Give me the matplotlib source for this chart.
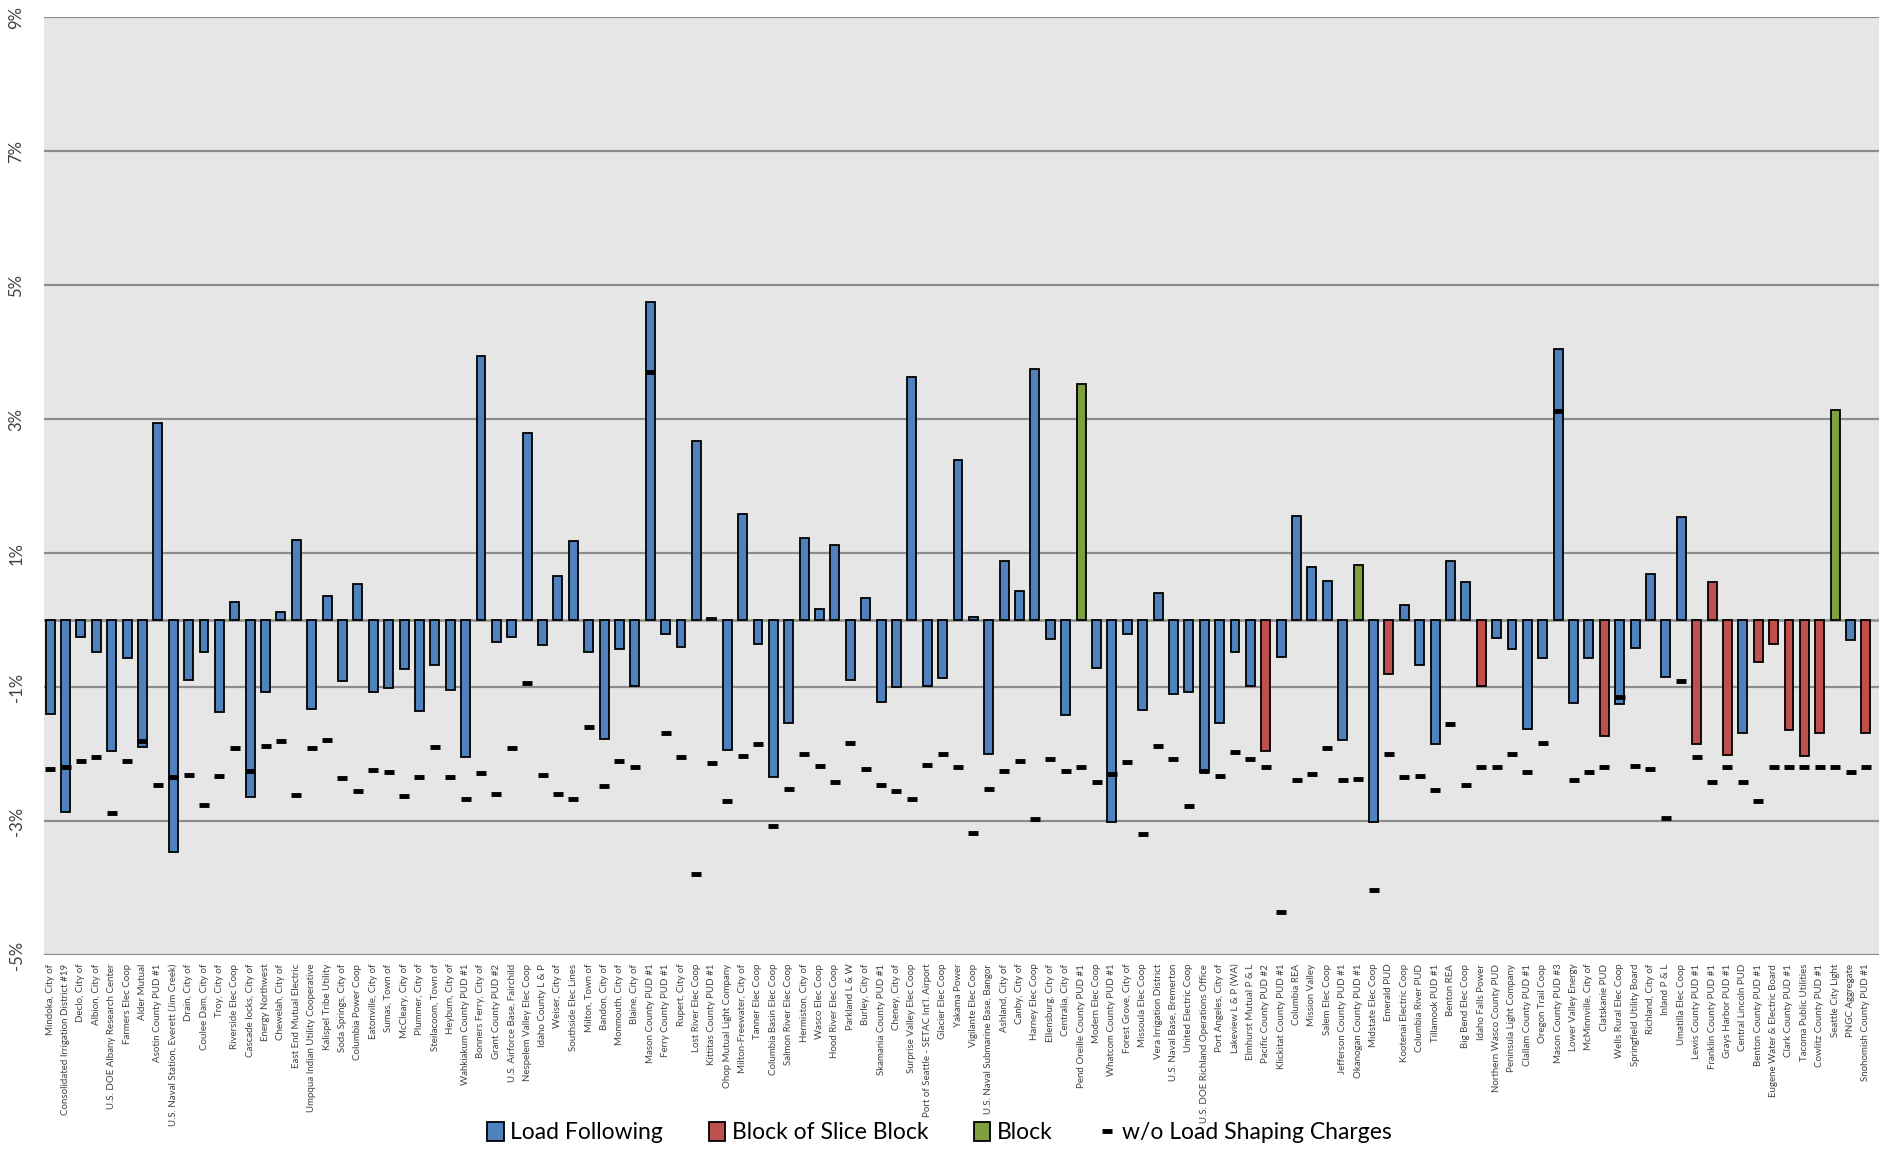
import numpy as np
import matplotlib
matplotlib.use("Agg")
import matplotlib.pyplot as plt
from matplotlib.patches import Patch
from matplotlib.lines import Line2D
from matplotlib.ticker import FuncFormatter

plt.rcParams['font.family'] = ['Lato', 'DejaVu Sans']

utilities = [
    "Mindoka, City of", "Consolidated Irrigation District #19", "Declo, City of", "Albion, City of",
    "U.S. DOE Albany Research Center", "Farmers Elec Coop", "Alder Mutual", "Asotin County PUD #1",
    "U.S. Naval Station, Everett (Jim Creek)", "Drain, City of", "Coulee Dam, City of", "Troy, City of",
    "Riverside Elec Coop", "Cascade locks, City of", "Energy Northwest", "Chewelah, City of",
    "East End Mutual Electric", "Umpqua Indian Utility Cooperative", "Kalispel Tribe Utility",
    "Soda Springs, City of", "Columbia Power Coop", "Eatonville, City of", "Sumas, Town of",
    "McCleary, City of", "Plummer, City of", "Steilacoom, Town of", "Heyburn, City of",
    "Wahkiakum County PUD #1", "Bonners Ferry, City of", "Grant County PUD #2",
    "U.S. Airforce Base, Fairchild", "Nespelem Valley Elec Coop", "Idaho County L & P",
    "Weiser, City of", "Southside Elec Lines", "Milton, Town of", "Bandon, City of",
    "Monmouth, City of", "Blaine, City of", "Mason County PUD #1", "Ferry County PUD #1",
    "Rupert, City of", "Lost River Elec Coop", "Kittitas County PUD #1", "Ohop Mutual Light Company",
    "Milton-Freewater, City of", "Tanner Elec Coop", "Columbia Basin Elec Coop", "Salmon River Elec Coop",
    "Hermiston, City of", "Wasco Elec Coop", "Hood River Elec Coop", "Parkland L & W", "Burley, City of",
    "Skamania County PUD #1", "Cheney, City of", "Surprise Valley Elec Coop",
    "Port of Seattle - SETAC Int'l. Airport", "Glacier Elec Coop", "Yakama Power", "Vigilante Elec Coop",
    "U.S. Naval Submarine Base, Bangor", "Ashland, City of", "Canby, City of", "Harney Elec Coop",
    "Ellensburg, City of", "Centralia, City of", "Pend Oreille County PUD #1", "Modern Elec Coop",
    "Whatcom County PUD #1", "Forest Grove, City of", "Missoula Elec Coop", "Vera Irrigation District",
    "U.S. Naval Base, Bremerton", "United Electric Coop", "U.S. DOE Richland Operations Office",
    "Port Angeles, City of", "Lakeview L & P (WA)", "Elmhurst Mutual P & L", "Pacific County PUD #2",
    "Klickitat County PUD #1", "Columbia REA", "Mission Valley", "Salem Elec Coop",
    "Jefferson County PUD #1", "Okanogan County PUD #1", "Midstate Elec Coop", "Emerald PUD",
    "Kootenai Electric Coop", "Columbia River PUD", "Tillamook PUD #1", "Benton REA",
    "Big Bend Elec Coop", "Idaho Falls Power", "Northern Wasco County PUD", "Peninsula Light Company",
    "Clallam County PUD #1", "Oregon Trail Coop", "Mason County PUD #3", "Lower Valley Energy",
    "McMinnville, City of", "Clatskanie PUD", "Wells Rural Elec Coop", "Springfield Utility Board",
    "Richland, City of", "Inland P & L", "Umatilla Elec Coop", "Lewis County PUD #1",
    "Franklin County PUD #1", "Grays Harbor PUD #1", "Central Lincoln PUD", "Benton County PUD #1",
    "Eugene Water & Electric Board", "Clark County PUD #1", "Tacoma Public Utilities",
    "Cowlitz County PUD #1", "Seattle City Light", "PNGC Aggregate", "Snohomish County PUD #1",
]

# rate change with load shaping (%), per utility
rate_change = [
    -1.40, -2.865, -0.245, -0.47, -1.95, -0.565, -1.895, 2.95, -3.465, -0.895,
    -0.47, -1.365, 0.27, -2.635, -1.07, 0.125, 1.20, -1.33, 0.36, -0.90,
    0.535, -1.07, -1.005, -0.73, -1.35, -0.67, -1.045, -2.04, 3.95, -0.32,
    -0.25, 2.80, -0.375, 0.66, 1.18, -0.47, -1.775, -0.43, -0.975, 4.75,
    -0.21, -0.395, 2.68, 0.03, -1.93, 1.59, -0.355, -2.34, -1.535, 1.23,
    0.17, 1.12, -0.895, 0.335, -1.215, -0.99, 3.63, -0.975, -0.855, 2.39,
    0.05, -1.995, 0.89, 0.43, 3.75, -0.28, -1.42, 3.52, -0.71, -3.015,
    -0.21, -1.345, 0.41, -1.105, -1.065, -2.265, -1.535, -0.47, -0.98, -1.95,
    -0.545, 1.55, 0.79, 0.585, -1.79, 0.825, -3.015, -0.805, 0.23, -0.67,
    -1.845, 0.885, 0.565, -0.975, -0.265, -0.43, -1.625, -0.56, 4.05, -1.23,
    -0.56, -1.72, -1.25, -0.41, 0.695, -0.84, 1.54, -1.85, 0.565, -2.005,
    -1.68, -0.62, -0.36, -1.63, -2.025, -1.68, 3.14, -0.295, -1.68,
]

# rate change without load shaping charges (%)
no_shaping = [
    -2.215, -2.19, -2.10, -2.045, -2.87, -2.10, -1.805, -2.455, -2.34, -2.305,
    -2.755, -2.325, -1.90, -2.245, -1.87, -1.795, -2.605, -1.90, -1.78, -2.36,
    -2.55, -2.23, -2.265, -2.625, -2.345, -1.885, -2.345, -2.665, -2.285, -2.585,
    -1.90, -0.94, -2.305, -2.585, -2.66, -1.59, -2.475, -2.10, -2.195, 3.71,
    -1.685, -2.045, -3.785, -2.135, -2.70, -2.025, -1.85, -3.075, -2.515, -1.99,
    -2.175, -2.42, -1.835, -2.215, -2.455, -2.545, -2.66, -2.155, -1.99, -2.19,
    -3.17, -2.515, -2.25, -2.10, -2.965, -2.065, -2.25, -2.195, -2.415, -2.29,
    -2.12, -3.19, -1.87, -2.065, -2.775, -2.25, -2.325, -1.97, -2.065, -2.195,
    -4.35, -2.38, -2.29, -1.90, -2.38, -2.365, -4.03, -1.99, -2.345, -2.325,
    -2.53, -1.55, -2.455, -2.195, -2.195, -1.99, -2.27, -1.835, 3.13, -2.38,
    -2.27, -2.195, -1.14, -2.175, -2.215, -2.945, -0.905, -2.045, -2.42, -2.195,
    -2.42, -2.70, -2.195, -2.195, -2.195, -2.195, -2.195, -2.27, -2.195,
]

# product: L = Load Following, S = Block of Slice Block, B = Block
red_idx = [80, 88, 94, 102, 108, 109, 110, 112, 113, 114, 115, 116, 119]
green_idx = [68, 86, 117]
product = ['L'] * len(utilities)
for i in red_idx:
    product[i - 1] = 'S'
for i in green_idx:
    product[i - 1] = 'B'

colors = {'L': '#4f81bd', 'S': '#c0504d', 'B': '#80a040'}
labels = {'L': 'Load Following', 'S': 'Block of Slice Block', 'B': 'Block'}

fig = plt.figure(figsize=(18.79, 11.51), dpi=100)
ax = fig.add_axes([0.0234, 0.170, 0.9766, 0.815])
ax.set_facecolor('#e6e6e6')

x = np.arange(len(utilities))
bar_colors = [colors[p] for p in product]
ax.bar(x, rate_change, width=0.58, color=bar_colors, edgecolor='black', linewidth=1.3, zorder=3)
ax.plot(x, no_shaping, linestyle='none', marker='_', markersize=7, markeredgewidth=3.5,
        color='black', zorder=4)

ax.set_xlim(-0.4, len(utilities) - 0.15)
ax.set_ylim(-5, 9)
ax.set_yticks([-5, -3, -1, 1, 3, 5, 7, 9])
ax.yaxis.set_major_formatter(FuncFormatter(lambda v, p: f"{v:.0f}%"))
ax.grid(axis='y', color='#8c8c8c', linewidth=1.6, zorder=1)
ax.axhline(0, color='#8c8c8c', linewidth=1.8, zorder=2)
for s in ax.spines.values():
    s.set_visible(False)

ax.set_xticks(x)
ax.set_xticklabels(utilities, rotation=90, fontsize=7, color='#404040')
ax.tick_params(axis='x', length=0, pad=6)
ax.tick_params(axis='y', length=0, pad=14, labelsize=12, labelcolor='#404040')
for t in ax.get_yticklabels():
    t.set_rotation(90)
    t.set_va('center')

handles = [Patch(facecolor=colors[k], edgecolor='black', linewidth=1.3, label=labels[k]) for k in ['L', 'S', 'B']]
handles.append(Line2D([], [], linestyle='none', marker='_', markersize=7, markeredgewidth=3.5,
                      color='black', label='w/o Load Shaping Charges'))
fig.legend(handles=handles, loc='center', bbox_to_anchor=(0.5, 0.016), ncol=4, frameon=False,
           fontsize=16.5, handlelength=0.7, handleheight=0.9, handletextpad=0.3, columnspacing=2.0)

fig.savefig('out.png', dpi=100)
